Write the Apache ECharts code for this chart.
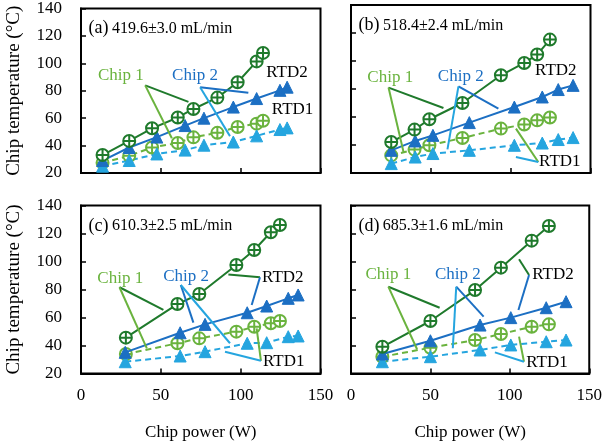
<!DOCTYPE html>
<html><head><meta charset="utf-8">
<script src="https://cdn.jsdelivr.net/npm/echarts@6/dist/echarts.min.js"></script>
<style>html,body{margin:0;padding:0;background:#fff}#c{width:605px;height:444px}</style>
</head><body><div id="c"></div>
<script>
// ---- data (Chip power W / Chip temperature °C) ----
const panelLabels = ['(a)', '(b)', '(c)', '(d)'];
const flowLabels = ['419.6±3.0 mL/min', '518.4±2.4 mL/min', '610.3±2.5 mL/min', '685.3±1.6 mL/min'];
const xTicks = [0, 50, 100, 150];
const yTicks = [20, 40, 60, 80, 100, 120, 140];

const a_c1_x    = [13.5, 30.2, 44.5, 60.6, 70.4, 85.4, 98.1, 110, 114];
const a_c1_rtd2 = [33.1, 43.4, 52.6, 60.5, 66.7, 75, 86.2, 101.4, 107.6];
const a_c1_rtd1 = [27.4, 32.6, 38.6, 41.9, 46, 49.3, 53.6, 56, 58.1];
const a_c2_x    = [13.5, 30.2, 47.5, 65.2, 77, 95.4, 110, 124.6, 129.1];
const a_c2_rtd2 = [29.1, 38.6, 46.2, 54.6, 60, 68.1, 74.3, 80.3, 82.6];
const a_c2_rtd1 = [25, 29.1, 33.9, 36.7, 40.3, 42.6, 47.1, 51.7, 52.9];

const b_c1_x    = [25.2, 39.8, 49.1, 69.8, 93.9, 108.5, 116.6, 124.6];
const b_c1_rtd2 = [42.1, 51, 58.4, 70, 89.8, 98.6, 104.6, 115.3];
const b_c1_rtd1 = [32.6, 36.7, 39.8, 45, 51.7, 54.6, 57.6, 59.6];
const b_c2_x    = [25.2, 40.2, 51.3, 74.1, 102.3, 119.8, 129.8, 139.1];
const b_c2_rtd2 = [36.2, 42.9, 46.9, 56, 67.1, 74.3, 79.6, 82.6];
const b_c2_rtd1 = [26.7, 31.4, 33.9, 36.2, 39.8, 41.4, 43.9, 45.3];

const c_c1_x    = [28.1, 60.4, 74.1, 97.3, 108.5, 118.9, 124.6];
const c_c1_rtd2 = [45.6, 69.6, 76.8, 97.5, 108.2, 120.9, 126.1];
const c_c1_rtd1 = [33.9, 41.6, 45.1, 49.9, 53.4, 55.9, 57.5];
const c_c2_x    = [27.7, 62.1, 77.7, 104.1, 116.3, 129.8, 136];
const c_c2_rtd2 = [35.1, 49.1, 55.1, 63.4, 68.2, 73.7, 76.1];
const c_c2_rtd1 = [28.4, 32.5, 35.6, 41.6, 42, 46.3, 46.8];

const d_c1_x    = [19.75, 50, 78.1, 94.4, 113.75, 124.6];
const d_c1_rtd2 = [39.1, 57.5, 79.6, 95.6, 114.9, 125.4];
const d_c1_rtd1 = [32, 38.4, 43.9, 48.2, 53.4, 55.1];
const d_c2_x    = [19.75, 50, 81.25, 100.6, 122.9, 135.4];
const d_c2_rtd2 = [33.9, 43.4, 54.6, 59.9, 67, 71.3];
const d_c2_rtd1 = [28.4, 32, 36.8, 40.4, 42.7, 43.9];

// annotation texts [text, x, y] and leader lines [[x1,y1],[x2,y2], colorKey] in data units
const a_texts = [['Chip 1', 25, 91.4], ['Chip 2', 71.4, 91.4], ['RTD2', 129, 93.4], ['RTD1', 132.5, 66.2]];
const a_lines = [[[40.2, 83.9], [67.3, 71.9], 'g2'], [[40.2, 83.9], [56.9, 45.3], 'g1'],
                 [[74.6, 82.6], [104.8, 78.6], 'b2'], [[74.6, 82.6], [93.3, 46.9], 'b1']];
const b_texts = [['Chip 1', 24.6, 88.1], ['Chip 2', 68.75, 89], ['RTD2', 128.3, 93.4], ['RTD1', 130.8, 27.9]];
const b_lines = [[[23.5, 81], [57.9, 66.4], 'g2'], [[23.5, 81], [32.9, 35], 'g1'],
                 [[67.3, 81.9], [92.3, 66], 'b2'], [[67.3, 81.9], [60.4, 36.9], 'b1'],
                 [[103.3, 51.7], [117.3, 27.9], 'g1'], [[103.3, 31.4], [117.3, 27.9], 'b1']];
const c_texts = [['Chip 1', 24.6, 88], ['Chip 2', 65.8, 89.6], ['RTD2', 126.4, 88.7], ['RTD1', 127, 28.4]];
const c_lines = [[[24.1, 81.6], [51.6, 65.4], 'g2'], [[24.1, 81.6], [41.25, 38], 'g1'],
                 [[62.5, 83.2], [70.4, 56.3], 'b2'], [[62.5, 83.2], [93.3, 41.6], 'b1'],
                 [[92.3, 90.8], [112.1, 88.7], 'g2'], [[112.1, 88.7], [106.9, 68.9], 'b2'],
                 [[110, 52.3], [112.7, 29.1], 'g1'], [[90.2, 35.6], [112.7, 29.1], 'b1']];
const d_texts = [['Chip 1', 23.5, 90.4], ['Chip 2', 67.25, 90.4], ['RTD2', 127.2, 90.4], ['RTD1', 123.4, 27.7]];
const d_lines = [[[23.5, 82], [55.8, 67], 'g2'], [[23.5, 82], [41.6, 37.3], 'g1'],
                 [[66.25, 82], [83.5, 60.6], 'b2'], [[66.25, 82], [64.1, 38], 'b1'],
                 [[105.8, 101.6], [112.1, 90.4], 'g2'], [[112.1, 90.4], [105.4, 65.4], 'b2'],
                 [[105.8, 46.3], [108.9, 28.4], 'g1'], [[90.6, 35.1], [108.9, 28.4], 'b1']];

// ---- styling ----
const COL = { g2: '#1f7a2c', g1: '#6ab33e', b2: '#1c6fc3', b1: '#25a5df' };
const FONT = 'Liberation Serif, Times New Roman, serif';
const CIRCLE = 'path://M10,0A10,10,0,1,1,9.99,0Z M10,0L10,20 M0,10L20,10';

const panels = [
  { c1x: a_c1_x, c1r2: a_c1_rtd2, c1r1: a_c1_rtd1, c2x: a_c2_x, c2r2: a_c2_rtd2, c2r1: a_c2_rtd1, texts: a_texts, lines: a_lines },
  { c1x: b_c1_x, c1r2: b_c1_rtd2, c1r1: b_c1_rtd1, c2x: b_c2_x, c2r2: b_c2_rtd2, c2r1: b_c2_rtd1, texts: b_texts, lines: b_lines },
  { c1x: c_c1_x, c1r2: c_c1_rtd2, c1r1: c_c1_rtd1, c2x: c_c2_x, c2r2: c_c2_rtd2, c2r1: c_c2_rtd1, texts: c_texts, lines: c_lines },
  { c1x: d_c1_x, c1r2: d_c1_rtd2, c1r1: d_c1_rtd1, c2x: d_c2_x, c2r2: d_c2_rtd2, c2r1: d_c2_rtd1, texts: d_texts, lines: d_lines }
];
const gridPos = [
  { left: 81, top: 5 }, { left: 351, top: 5 },
  { left: 81, top: 205.5 }, { left: 351, top: 205.5 }
];

const zip = (xs, ys) => xs.map((x, i) => [x, ys[i]]);

const grid = [], xAxis = [], yAxis = [], series = [];
panels.forEach((p, i) => {
  grid.push({ left: gridPos[i].left, top: gridPos[i].top, width: 239.5, height: 168,
    show: true, borderColor: '#000', borderWidth: 2, backgroundColor: 'transparent' });
  const bottomRow = i >= 2, leftCol = i % 2 === 0;
  xAxis.push({ gridIndex: i, type: 'value', min: xTicks[0], max: xTicks[xTicks.length - 1], interval: 50,
    name: bottomRow ? 'Chip power (W)' : '', nameLocation: 'middle', nameGap: 51,
    nameTextStyle: { fontFamily: FONT, fontSize: 17, color: '#000' },
    axisLine: { show: true, lineStyle: { color: '#000', width: 2 } },
    axisTick: { show: true, inside: true, length: 5, lineStyle: { color: '#000', width: 1.5 } },
    axisLabel: { show: bottomRow, margin: 14, fontFamily: FONT, fontSize: 17, color: '#000' },
    splitLine: { show: false } });
  yAxis.push({ gridIndex: i, type: 'value', min: yTicks[0], max: yTicks[yTicks.length - 1], interval: 20,
    name: leftCol ? 'Chip temperature (°C)' : '', nameLocation: 'middle', nameGap: 57,
    nameTextStyle: { fontFamily: FONT, fontSize: 19, color: '#000' },
    axisLine: { show: true, lineStyle: { color: '#000', width: 2 } },
    axisTick: { show: true, inside: true, length: 5, lineStyle: { color: '#000', width: 1.5 } },
    axisLabel: { show: leftCol, margin: 19, fontFamily: FONT, fontSize: 17, color: '#000' },
    splitLine: { show: false } });
  const mk = (name, xs, ys, col, dashed, sym) => ({
    name, type: 'line', xAxisIndex: i, yAxisIndex: i, data: zip(xs, ys),
    symbol: sym, symbolSize: 12,
    lineStyle: { color: col, width: 2, type: dashed ? [6, 4] : 'solid' },
    itemStyle: sym === CIRCLE ? { color: '#fff', borderColor: col, borderWidth: 2 } : { color: col, borderColor: col, borderWidth: 1 },
    animation: false, z: dashed ? 2 : 3 });
  series.push(mk('Chip 1 RTD1', p.c1x, p.c1r1, COL.g1, true, CIRCLE));
  series.push(mk('Chip 2 RTD1', p.c2x, p.c2r1, COL.b1, true, 'triangle'));
  series.push(mk('Chip 2 RTD2', p.c2x, p.c2r2, COL.b2, false, 'triangle'));
  series.push(mk('Chip 1 RTD2', p.c1x, p.c1r2, COL.g2, false, CIRCLE));
});

const chart = echarts.init(document.getElementById('c'), null, { renderer: 'canvas' });
chart.setOption({ animation: false, grid, xAxis, yAxis, series });

// annotations positioned through the axes' own scales
const graphic = [];
panels.forEach((p, i) => {
  const px = (pt) => chart.convertToPixel({ gridIndex: i }, pt);
  const ti = px([4.75, 125.5]);
  graphic.push({ type: 'text', x: ti[0], y: ti[1], style: {
    text: '{p|' + panelLabels[i] + '} {f|' + flowLabels[i] + '}', verticalAlign: 'middle', align: 'left',
    rich: { p: { fontFamily: FONT, fontSize: 18, fill: '#000' }, f: { fontFamily: FONT, fontSize: 16, fill: '#000' } } } });
  p.lines.forEach(l => {
    const a = px(l[0]), b = px(l[1]);
    graphic.push({ type: 'line', shape: { x1: a[0], y1: a[1], x2: b[0], y2: b[1] },
      style: { stroke: COL[l[2]], lineWidth: 2 }, z: 10 });
  });
  p.texts.forEach(t => {
    const q = px([t[1], t[2]]);
    const color = t[0] === 'Chip 1' ? COL.g1 : (t[0] === 'Chip 2' ? COL.b2 : '#000');
    graphic.push({ type: 'text', x: q[0], y: q[1], z: 11, style: { text: t[0], fill: color,
      fontFamily: FONT, fontSize: 17, align: 'center', verticalAlign: 'middle' } });
  });
});
chart.setOption({ graphic });
</script></body></html>
